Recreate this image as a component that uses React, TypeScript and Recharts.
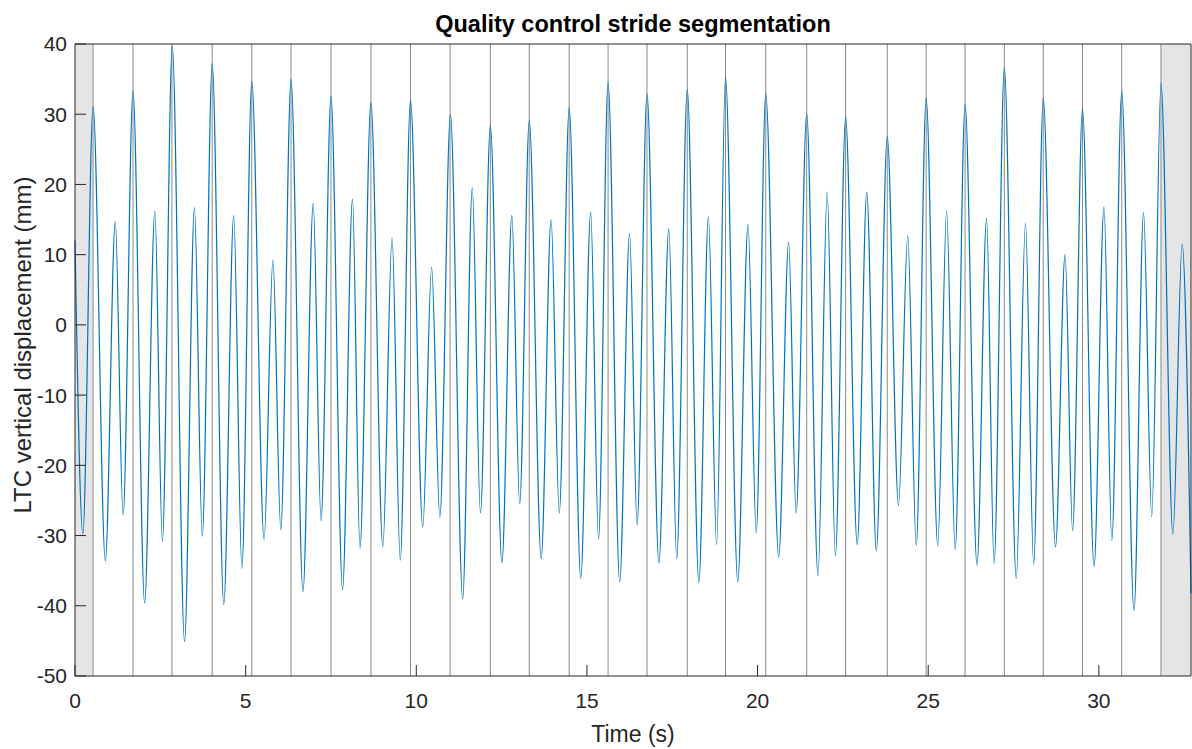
import React from "react";
import {
  LineChart,
  Line,
  XAxis,
  YAxis,
  ReferenceLine,
  ReferenceArea,
} from "recharts";

// extrema of the LTC trace (seconds / mm)
const TIME = [
  0, 0.23, 0.53, 0.89, 1.18, 1.41, 1.7, 2.04, 2.34, 2.56, 2.85, 3.21, 3.5, 3.73,
  4.02, 4.36, 4.65, 4.89, 5.18, 5.54, 5.8, 6.03, 6.33, 6.68, 6.98, 7.21, 7.5,
  7.84, 8.13, 8.35, 8.67, 9.02, 9.29, 9.53, 9.83, 10.19, 10.45, 10.69, 11.0,
  11.36, 11.64, 11.88, 12.17, 12.51, 12.8, 13.03, 13.31, 13.66, 13.95, 14.19,
  14.48, 14.82, 15.11, 15.34, 15.62, 15.96, 16.25, 16.47, 16.76, 17.11, 17.4,
  17.63, 17.94, 18.28, 18.56, 18.8, 19.06, 19.42, 19.72, 19.96, 20.24, 20.62,
  20.91, 21.13, 21.44, 21.77, 22.04, 22.28, 22.58, 22.92, 23.2, 23.48, 23.8,
  24.13, 24.4, 24.65, 24.94, 25.28, 25.54, 25.79, 26.08, 26.43, 26.71, 26.93,
  27.23, 27.58, 27.85, 28.09, 28.37, 28.73, 29.01, 29.23, 29.52, 29.86, 30.15,
  30.38, 30.67, 31.03, 31.31, 31.55, 31.82, 32.17, 32.44, 32.7,
];

const DISP = [
  12.0, -29.8, 31.1, -33.6, 14.7, -27.1, 33.3, -39.6, 16.2, -30.8, 39.7, -45.1,
  16.7, -30.1, 37.2, -39.8, 15.6, -34.7, 34.7, -30.6, 9.3, -29.2, 35.0, -38.0,
  17.3, -27.9, 32.6, -37.7, 17.9, -31.8, 31.7, -31.6, 12.4, -33.5, 32.0, -28.8,
  8.2, -27.4, 30.0, -39.0, 19.5, -26.8, 28.4, -33.9, 15.6, -25.5, 29.1, -33.3,
  15.0, -26.8, 30.9, -36.1, 16.1, -30.5, 34.5, -36.6, 13.0, -28.5, 32.9, -33.9,
  13.7, -33.3, 33.5, -36.7, 15.4, -31.3, 35.3, -36.6, 14.3, -29.6, 32.9, -33.1,
  11.8, -26.8, 30.1, -35.7, 18.9, -32.9, 29.6, -31.3, 18.9, -32.2, 26.8, -25.7,
  12.7, -31.4, 32.3, -31.5, 16.2, -32.0, 31.4, -34.2, 15.2, -34.0, 36.6, -36.1,
  14.5, -34.1, 32.3, -31.6, 10.0, -29.3, 30.7, -34.4, 16.8, -30.7, 33.3, -40.7,
  16.0, -27.3, 34.4, -29.8, 11.5, -38.2,
];

// detected stride boundaries (s)
const STRIDES = [
  0.53, 1.7, 2.84, 4.02, 5.18, 6.33, 7.5, 8.67, 9.83, 10.99, 12.17, 13.31,
  14.48, 15.62, 16.76, 17.94, 19.06, 20.24, 21.44, 22.58, 23.8, 24.94, 26.08,
  27.23, 28.37, 29.52, 30.67, 31.82,
];

const T_END = 32.7;
const X_TICKS = [0, 5, 10, 15, 20, 25, 30];
const Y_TICKS = [-50, -40, -30, -20, -10, 0, 10, 20, 30, 40];

const data = TIME.map((t, i) => ({ t, v: DISP[i] }));

const FONT = "'Liberation Sans', Arial, sans-serif";
const INK = "#262626";

const YLabel = ({ viewBox }: any) => {
  const cx = 31;
  const cy = viewBox.y + viewBox.height / 2 - 15;
  return (
    <text
      x={cx}
      y={cy}
      transform={`rotate(-90, ${cx}, ${cy})`}
      textAnchor="middle"
      fill={INK}
      fontSize={24}
      fontFamily={FONT}
    >
      LTC vertical displacement (mm)
    </text>
  );
};

export default function App() {
  return (
    <div
      style={{
        position: "absolute",
        left: 0,
        top: 0,
        width: 1192,
        height: 749,
        background: "#fff",
        fontFamily: FONT,
      }}
    >
      <LineChart
        width={1192}
        height={749}
        data={data}
        margin={{ top: 43, right: 0, bottom: 0, left: 0 }}
      >
        <XAxis
          dataKey="t"
          type="number"
          domain={[0, T_END]}
          ticks={X_TICKS}
          height={73}
          tickSize={-11}
          tickMargin={28}
          stroke={INK}
          tick={{ fill: INK, fontSize: 21, fontFamily: FONT }}
          label={{
            value: "Time (s)",
            position: "insideBottom",
            offset: 7,
            fill: INK,
            fontSize: 23,
            fontFamily: FONT,
          }}
        />
        <XAxis
          xAxisId="top"
          orientation="top"
          dataKey="t"
          type="number"
          domain={[0, T_END]}
          ticks={X_TICKS}
          height={1}
          tickSize={-11}
          tick={false}
          stroke={INK}
          label={{
            value: "Quality control stride segmentation",
            position: "top",
            offset: 11,
            fill: "#000",
            fontSize: 23.5,
            fontWeight: "bold",
            fontFamily: FONT,
          }}
        />
        <YAxis
          type="number"
          domain={[-50, 40]}
          ticks={Y_TICKS}
          width={75}
          tickSize={-11}
          tickMargin={19}
          stroke={INK}
          tick={{ fill: INK, fontSize: 21, fontFamily: FONT }}
          label={<YLabel />}
        />
        <YAxis
          yAxisId="right"
          orientation="right"
          type="number"
          domain={[-50, 40]}
          ticks={Y_TICKS}
          width={1}
          tickSize={-11}
          tick={false}
          stroke={INK}
        />
        <ReferenceArea
          x1={0}
          x2={STRIDES[0]}
          fill="#e5e5e5"
          fillOpacity={1}
          stroke="none"
        />
        <ReferenceArea
          x1={STRIDES[STRIDES.length - 1]}
          x2={T_END}
          fill="#e5e5e5"
          fillOpacity={1}
          stroke="none"
        />
        {STRIDES.map((s) => (
          <ReferenceLine key={s} x={s} stroke="#8a8a8a" strokeWidth={1} />
        ))}
        <Line
          type="monotone"
          dataKey="v"
          stroke="#0072BD"
          strokeWidth={1.2}
          dot={false}
          activeDot={false}
          isAnimationActive={false}
        />
      </LineChart>
    </div>
  );
}
